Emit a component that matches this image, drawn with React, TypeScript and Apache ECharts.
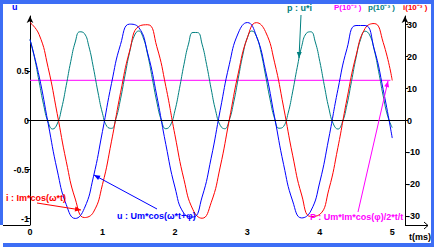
import React, { useEffect, useRef } from "react";
import * as echarts from "echarts";

// time step (ms) of the sampled curves
const T_STEP = 0.125;
const P_STEP = 0.0625;

const xTicks = [0, 1, 2, 3, 4, 5];
const leftTicks = [-1, -0.5, 0, 0.5];
const rightTicks = [-30, -20, -10, 0, 10, 20, 30];

// i : Im*cos(w*t)  (red), read every 0.125 ms
const iValues = [
  1.0, 0.878, 0.54, 0.071, -0.416, -0.801, -0.99, -0.936, -0.654, -0.211, 0.284,
  0.709, 0.96, 0.977, 0.754, 0.347, -0.146, -0.602, -0.911, -0.997, -0.839,
  -0.475, 0.004, 0.483, 0.844, 0.998, 0.907, 0.595, 0.137, -0.354, -0.76,
  -0.979, -0.958, -0.703, -0.275, 0.219, 0.66, 0.939, 0.989, 0.796, 0.408,
];

// u : Um*cos(w*t+phi)  (blue), read every 0.125 ms
const uValues = [
  0.825, 0.454, -0.029, -0.505, -0.857, -0.999, -0.897, -0.575, -0.112, 0.378,
  0.776, 0.983, 0.95, 0.685, 0.251, -0.244, -0.679, -0.948, -0.985, -0.781,
  -0.385, 0.104, 0.568, 0.893, 0.999, 0.861, 0.512, 0.037, -0.447, -0.821,
  -0.994, -0.924, -0.628, -0.178, 0.316, 0.732, 0.969, 0.969, 0.731, 0.315,
  -0.179,
];

// p : u*i  (teal), read every 0.0625 ms
const pValues = [
  0.826, 0.64, 0.399, 0.161, -0.016, -0.087, -0.036, 0.126, 0.357, 0.602, 0.801,
  0.905, 0.888, 0.756, 0.539, 0.291, 0.074, -0.061, -0.08, 0.023, 0.221, 0.465,
  0.697, 0.86, 0.913, 0.844, 0.669, 0.432, 0.19, 0.003, -0.084, -0.049, 0.099,
  0.324, 0.571, 0.779, 0.898, 0.897, 0.779, 0.57, 0.324, 0.099, -0.049, -0.084,
  0.003, 0.19, 0.432, 0.669, 0.844, 0.913, 0.859, 0.697, 0.465, 0.22, 0.023,
  -0.079, -0.061, 0.074, 0.292, 0.539, 0.756, 0.888, 0.905, 0.801, 0.602, 0.357,
  0.125, -0.036, -0.087, -0.015, 0.161, 0.399, 0.64, 0.826, 0.911, 0.873, 0.724,
  0.498, 0.251, 0.044, -0.073,
];

// P : mean power (magenta)
const P_MEAN = 0.41;
const P_TIMES = [0, 4.975];

const FAMILY = '"Liberation Sans", Arial, sans-serif';
const FONT = 'bold 9px "Liberation Sans", Arial, sans-serif';
const FONT_SMALL = 'bold 8px "Liberation Sans", Arial, sans-serif';
const FRAME = "#3d6ef5";
const RED = "#ff0000";
const BLUE = "#0000ff";
const TEAL = "#008080";
const MAG = "#ff00ff";

function pairs(values: number[], step: number) {
  return values.map((v, k) => [Number((k * step).toFixed(4)), v]);
}

function arrowHead(tip: number[], from: number[], color: string, len = 6, half = 2.5) {
  const dx = tip[0] - from[0];
  const dy = tip[1] - from[1];
  const d = Math.sqrt(dx * dx + dy * dy) || 1;
  const ux = dx / d;
  const uy = dy / d;
  const bx = tip[0] - ux * len;
  const by = tip[1] - uy * len;
  return {
    type: "polygon",
    shape: {
      points: [
        [tip[0], tip[1]],
        [bx - uy * half, by + ux * half],
        [bx + uy * half, by - ux * half],
      ],
    },
    style: { fill: color },
    silent: true,
    z: 100,
  };
}

function arrow(from: number[], tip: number[], color: string) {
  return [
    {
      type: "line",
      shape: { x1: from[0], y1: from[1], x2: tip[0], y2: tip[1] },
      style: { stroke: color, lineWidth: 1 },
      silent: true,
      z: 100,
    },
    arrowHead(tip, from, color),
  ];
}

function txt(text: string, x: number, y: number, fill: string, font = FONT) {
  return {
    type: "text",
    silent: true,
    z: 100,
    style: {
      text,
      x,
      y,
      fill,
      font,
      textAlign: "left",
      textVerticalAlign: "middle",
    },
  };
}

export default function App() {
  const ref = useRef<HTMLDivElement>(null);

  useEffect(() => {
    if (!ref.current) return;
    const chart = echarts.init(ref.current, null, { renderer: "svg" });

    const lineBase = {
      type: "line",
      showSymbol: false,
      symbol: "none",
      smooth: true,
      silent: true,
    };

    const labelStyle = {
      color: "#000",
      fontSize: 9,
      fontWeight: "bold",
      fontFamily: FAMILY,
    };

    const option: any = {
      animation: false,
      backgroundColor: "#ffffff",
      grid: { left: 30, right: 29, top: 16, bottom: 22, containLabel: false },
      xAxis: {
        type: "value",
        min: 0,
        max: 5.176,
        interval: 1,
        axisLine: { show: true, lineStyle: { color: "#000", width: 1 } },
        axisTick: { show: false },
        splitLine: { show: false },
        axisLabel: { customValues: xTicks, ...labelStyle, margin: 2 },
      },
      yAxis: [
        {
          type: "value",
          position: "left",
          min: -1.066,
          max: 1.066,
          axisLine: {
            show: true,
            onZero: false,
            symbol: ["none", "arrow"],
            symbolSize: [5, 7],
            lineStyle: { color: "#000", width: 1 },
          },
          axisTick: { show: true, customValues: leftTicks, length: 3, lineStyle: { color: "#000" } },
          splitLine: { show: false },
          axisLabel: {
            customValues: leftTicks,
            formatter: (v: number) => String(v),
            ...labelStyle,
            margin: 1,
          },
        },
        {
          type: "value",
          position: "right",
          min: -32.66,
          max: 32.66,
          axisLine: {
            show: true,
            onZero: false,
            symbol: ["none", "arrow"],
            symbolSize: [5, 7],
            lineStyle: { color: "#000", width: 1 },
          },
          axisTick: { show: true, customValues: rightTicks, length: 3, lineStyle: { color: "#000" } },
          splitLine: { show: false },
          axisLabel: { customValues: rightTicks, ...labelStyle, margin: 2 },
        },
      ],
      series: [
        {
          ...lineBase,
          name: "P",
          smooth: false,
          data: P_TIMES.map((t) => [t, P_MEAN]),
          lineStyle: { color: MAG, width: 1 },
          markLine: {
            silent: true,
            symbol: "none",
            label: { show: false },
            lineStyle: { color: "#000", type: "solid", width: 1 },
            data: [{ yAxis: 0 }],
          },
        },
        {
          ...lineBase,
          name: "p",
          data: pairs(pValues, P_STEP),
          lineStyle: { color: TEAL, width: 1 },
        },
        {
          ...lineBase,
          name: "i",
          data: pairs(iValues, T_STEP),
          lineStyle: { color: RED, width: 1 },
        },
        {
          ...lineBase,
          name: "u",
          data: pairs(uValues, T_STEP),
          lineStyle: { color: BLUE, width: 1 },
        },
      ],
      graphic: [
        // frame
        { type: "rect", shape: { x: 0, y: 0, width: 434, height: 4 }, style: { fill: FRAME }, silent: true, z: 200 },
        { type: "rect", shape: { x: 0, y: 0, width: 3, height: 225 }, style: { fill: FRAME }, silent: true, z: 200 },
        { type: "rect", shape: { x: 431, y: 0, width: 3, height: 247 }, style: { fill: FRAME }, silent: true, z: 200 },
        { type: "rect", shape: { x: 3, y: 243, width: 431, height: 4 }, style: { fill: FRAME }, silent: true, z: 200 },
        // x-axis extensions and arrow
        { type: "line", shape: { x1: 3, y1: 225.5, x2: 30, y2: 225.5 }, style: { stroke: "#000", lineWidth: 1 }, silent: true },
        { type: "line", shape: { x1: 405, y1: 225.5, x2: 428, y2: 225.5 }, style: { stroke: "#000", lineWidth: 1 }, silent: true },
        { type: "polyline", shape: { points: [[424, 222], [428, 225.5], [424, 229]] }, style: { stroke: "#000", lineWidth: 1, fill: null }, silent: true },
        // texts
        txt("u", 12, 7, BLUE),
        txt("p : u*i", 287, 8, TEAL),
        txt("P(10⁻³ )", 334, 7, MAG, FONT_SMALL),
        txt("p(10⁻³ )", 368, 7, TEAL, FONT_SMALL),
        txt("i(10⁻³ )", 403, 7, RED, FONT_SMALL),
        txt("i : Im*cos(ω*t)", 6, 198, RED),
        txt("u : Um*cos(ω*t+φ)", 117, 216, BLUE),
        txt("P : Um*Im*cos(φ)/2*t/t", 310, 217, MAG),
        txt("t(ms)", 409, 237, "#000"),
        // annotation arrows
        ...arrow([37, 203], [81, 210], RED),
        ...arrow([157, 209], [94, 175], BLUE),
        ...arrow([358, 212], [388, 81], MAG),
        ...arrow([301, 15], [299, 58], TEAL),
      ],
    };

    chart.setOption(option);
    return () => chart.dispose();
  }, []);

  return (
    <div
      ref={ref}
      style={{ position: "fixed", left: 0, top: 0, width: 434, height: 247, background: "#fff" }}
    />
  );
}
